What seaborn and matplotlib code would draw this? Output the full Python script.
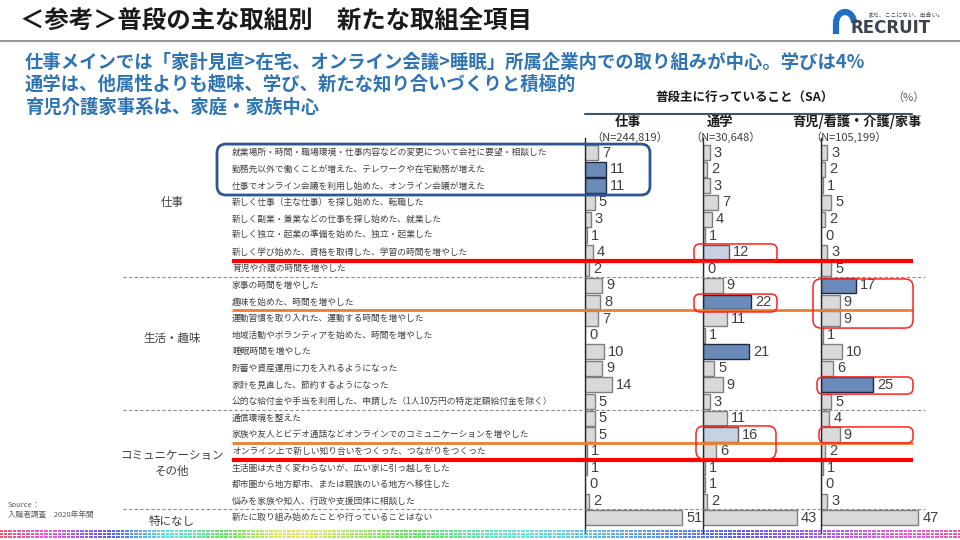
import numpy as np
import pandas as pd
import matplotlib
matplotlib.use("Agg")
import matplotlib.pyplot as plt
import seaborn as sns
from matplotlib import transforms
from matplotlib.patches import FancyBboxPatch, Arc

# ---------------- data ----------------
items = [
    "就業場所・時間・職場環境・仕事内容などの変更について会社に要望・相談した",
    "勤務先以外で働くことが増えた、テレワークや在宅勤務が増えた",
    "仕事でオンライン会議を利用し始めた、オンライン会議が増えた",
    "新しく仕事（主な仕事）を探し始めた、転職した",
    "新しく副業・兼業などの仕事を探し始めた、就業した",
    "新しく独立・起業の準備を始めた、独立・起業した",
    "新しく学び始めた、資格を取得した、学習の時間を増やした",
    "育児や介護の時間を増やした",
    "家事の時間を増やした",
    "趣味を始めた、時間を増やした",
    "運動習慣を取り入れた、運動する時間を増やした",
    "地域活動やボランティアを始めた、時間を増やした",
    "睡眠時間を増やした",
    "貯蓄や資産運用に力を入れるようになった",
    "家計を見直した、節約するようになった",
    "公的な給付金や手当を利用した、申請した（1人10万円の特定定額給付金を除く）",
    "通信環境を整えた",
    "家族や友人とビデオ通話などオンラインでのコミュニケーションを増やした",
    "オンライン上で新しい知り合いをつくった、つながりをつくった",
    "生活圏は大きく変わらないが、広い家に引っ越しをした",
    "都市圏から地方都市、または親族のいる地方へ移住した",
    "悩みを家族や知人、行政や支援団体に相談した",
    "新たに取り組み始めたことや行っていることはない",
]
work_vals   = [7, 11, 11, 5, 3, 1, 4, 2, 9, 8, 7, 0, 10, 9, 14, 5, 5, 5, 1, 1, 0, 2, 51]
school_vals = [3, 2, 3, 7, 4, 1, 12, 0, 9, 22, 11, 1, 21, 5, 9, 3, 11, 16, 6, 1, 1, 2, 43]
care_vals   = [3, 2, 1, 5, 2, 0, 3, 5, 17, 9, 9, 1, 10, 6, 25, 5, 4, 9, 2, 1, 0, 3, 47]

panel_titles = ["仕事", "通学", "育児/看護・介護/家事"]
panel_n = ["（N=244,819）", "（N=30,648）", "（N=105,199）"]
group_labels = ["仕事", "生活・趣味", "コミュニケーション\nその他", "特になし"]
group_rows = [3.0, 11.2, 18.75, 22.25]

# highlighted bars per panel: 'd' = dark blue, 'l' = light blue
highlights = [
    {1: "d", 2: "d"},
    {6: "l", 9: "d", 12: "d", 17: "l"},
    {8: "d", 14: "d"},
]

title = "＜参考＞普段の主な取組別　新たな取組全項目"
subtitle = [
    "仕事メインでは「家計見直>在宅、オンライン会議>睡眠」所属企業内での取り組みが中心。学びは4%",
    "通学は、他属性よりも趣味、学び、新たな知り合いづくりと積極的",
    "育児介護家事系は、家庭・家族中心",
]

# ---------------- style ----------------
sns.set_theme(style="white")
plt.rcParams["font.family"] = ["Noto Sans CJK JP", "DejaVu Sans"]

W, H = 960, 540
fig = plt.figure(figsize=(9.6, 5.4), dpi=100)

ROW0, STEP = 152.7, 16.59          # pixel position of first row, row pitch
def row_px(i):
    return ROW0 + i * STEP

ax_top_px, ax_bot_px = 138, 533
y_top = (ax_top_px - ROW0) / STEP
y_bot = (ax_bot_px - ROW0) / STEP

baselines = [585, 703, 821]
scales = [1.9, 2.18, 2.07]
panel_w = 110

fill = {"g": "#d9d9d9", "d": "#6a8bba", "l": "#c6d1e2"}
edge = {"g": "#7f7f7f", "d": "#1f2a3c", "l": "#5a5a5a"}

series = [work_vals, school_vals, care_vals]
axes = []
for p, vals in enumerate(series):
    left = baselines[p] / W
    ax = fig.add_axes([left, 1 - ax_bot_px / H, panel_w / W, (ax_bot_px - ax_top_px) / H])
    kinds = [highlights[p].get(i, "g") for i in range(len(items))]
    df = pd.DataFrame({"item": items, "value": vals})
    pal = {it: fill[k] for it, k in zip(items, kinds)}
    sns.barplot(data=df, x="value", y="item", hue="item", order=items,
                hue_order=items, palette=pal, legend=False, ax=ax,
                width=0.9, saturation=1, orient="h")
    for patch in ax.patches:
        yc = patch.get_y() + patch.get_height() / 2
        idx = int(round(yc))
        k = kinds[idx]
        patch.set_edgecolor(edge[k])
        patch.set_linewidth(1.0)
    for i, v in enumerate(vals):
        ax.annotate(str(v), (v, i), xytext=(3, 0), textcoords="offset points",
                    va="center", ha="left", fontsize=10.5, color="#404040",
                    family=["Liberation Sans", "DejaVu Sans"])
    ax.set_xlim(0, panel_w / scales[p])
    ax.set_ylim(y_bot, y_top)
    ax.set_xticks([])
    ax.set_yticks([])
    ax.set_xlabel("")
    ax.set_ylabel("")
    for s in ["top", "right", "bottom"]:
        ax.spines[s].set_visible(False)
    ax.spines["left"].set_color("#262626")
    ax.spines["left"].set_linewidth(1.0)
    ax.patch.set_alpha(0)
    axes.append(ax)

ax0 = axes[0]
blend = transforms.blended_transform_factory(fig.transFigure, ax0.transData)
for i, it in enumerate(items):
    fig.text(232 / W, i, it, transform=blend, ha="left", va="center",
             fontsize=6.3, color="#404040")
for lab, r in zip(group_labels, group_rows):
    fig.text(172 / W, r, lab, transform=blend, ha="center", va="center",
             fontsize=8.3, color="#404040", linespacing=1.3)

# ---------------- overlay (pixel coordinates) ----------------
ov = fig.add_axes([0, 0, 1, 1], zorder=10)
ov.set_xlim(0, W)
ov.set_ylim(H, 0)
ov.axis("off")
ov.patch.set_alpha(0)

# dashed group separators
for r in [7.5, 15.5, 21.5]:
    ov.plot([123, 925], [row_px(r)] * 2, ls=(0, (3, 2)), lw=0.8, color="#8c8c8c", zorder=1)

# red & orange emphasis lines
for r in [6.5, 18.5]:
    ov.plot([232, 913], [row_px(r)] * 2, lw=3, color="#ff0000", solid_capstyle="butt", zorder=3)
for r in [9.5, 17.5]:
    ov.plot([232, 913], [row_px(r)] * 2, lw=2, color="#ed7d31", solid_capstyle="butt", zorder=3)

def rbox(x0, x1, r0, r1, color, lw, rad=6):
    y0, y1 = row_px(r0), row_px(r1)
    ov.add_patch(FancyBboxPatch((x0, y0), x1 - x0, y1 - y0,
                                boxstyle=f"round,pad=0,rounding_size={rad}",
                                fill=False, edgecolor=color, lw=lw, zorder=4))

rbox(217, 650, -0.52, 2.55, "#2f5597", 2.0, rad=9)
red = "#ff2020"
rbox(694, 777, 5.50, 6.60, red, 1.1)
rbox(694, 777, 8.52, 9.60, red, 1.1)
rbox(813, 913, 7.61, 10.57, red, 1.1, rad=8)
rbox(817, 913, 13.52, 14.55, red, 1.1)
rbox(696, 776, 16.47, 18.46, red, 1.1, rad=8)
rbox(819, 913, 16.53, 17.50, red, 1.1)

# header
ov.text(745, 98, "普段主に行っていること（SA）", ha="center", va="center",
        fontsize=9, fontweight="bold", color="#1a1a1a")
ov.text(908, 98, "（%）", ha="center", va="center", fontsize=8, color="#595959")
ov.plot([585, 912], [114, 114], lw=1.5, color="#44546a")
for xc, t in zip([628, 720, 857], panel_titles):
    ov.text(xc, 122, t, ha="center", va="center", fontsize=9.5, fontweight="bold", color="#1a1a1a")
for xc, t in zip([630, 725, 849], panel_n):
    ov.text(xc, 137, t, ha="center", va="center", fontsize=8, color="#404040")

# title
ov.text(20, 22, title, ha="left", va="center", fontsize=17.6, fontweight="bold", color="#1a1a1a")
ov.plot([0, 960], [41, 41], lw=1.3, color="#8c8c8c")
for k, s in enumerate(subtitle):
    ov.text(25, 62 + k * 22.5, s, ha="left", va="center", fontsize=13.2,
            fontweight="bold", color="#2e74b5")

# logo
ov.add_patch(Arc((845, 23), 18, 22, theta1=180, theta2=360, lw=4.5, color="#1f6fc5"))
ov.plot([836, 836], [23, 34], lw=4.5, color="#1f6fc5", solid_capstyle="butt")
ov.text(851, 28, "RECRUIT", ha="left", va="center", fontsize=12, fontweight="bold",
        color="#3d4450", family=["DejaVu Sans"])
ov.text(868, 14, "まだ、ここにない、出会い。", ha="left", va="center", fontsize=4.2, color="#3d4450")

# source
ov.text(8, 505, "Source：", ha="left", va="center", fontsize=5.5, color="#595959")
ov.text(8, 515, "入職者調査　2020年年間", ha="left", va="center", fontsize=5.5, color="#595959")

# decorative dotted strip at the bottom
xs = np.arange(1, W, 4.5)
stops = np.array([0.0, 0.3, 0.55, 0.75, 1.0])
hues = np.array([0.98, 0.15, 0.5, 0.65, 0.9])
hv = np.interp(xs / W, stops, hues) % 1.0
cols = [matplotlib.colors.hsv_to_rgb((h, 0.75, 0.9)) for h in hv]
for yy in [530.7, 534.0, 537.3]:
    ov.scatter(xs, np.full_like(xs, yy), marker="_", s=6, c=cols, linewidths=1.2, zorder=0)

fig.savefig("out.png", dpi=100)
